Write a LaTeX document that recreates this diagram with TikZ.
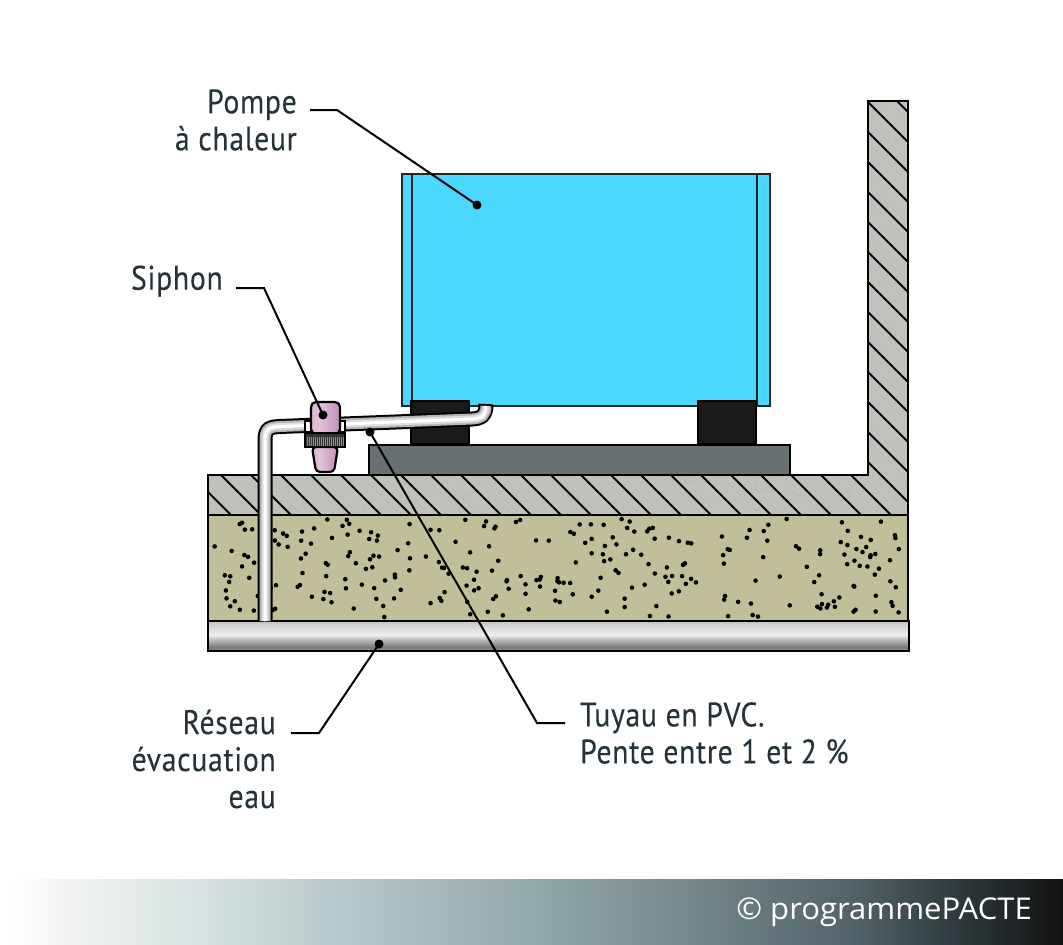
\documentclass[tikz,border=0pt]{standalone}
\usepackage{fontspec}
\setmainfont[FakeStretch=.875,LetterSpace=2,FakeBold=.15]{PT Sans}
\newfontfamily\pactefont[FakeStretch=1.035]{Open Sans}
\definecolor{beton}{HTML}{BFC1BC}
\definecolor{sable}{HTML}{C0BF99}
\definecolor{pac}{HTML}{4CD7FF}
\definecolor{plot}{HTML}{1A1A1A}
\definecolor{socle}{HTML}{687072}
\definecolor{encre}{HTML}{25323A}
% bandeau
\definecolor{banA}{HTML}{EEF1F0}
\definecolor{banB}{HTML}{D4DFDF}
\definecolor{banC}{HTML}{B0C3C6}
\definecolor{banD}{HTML}{94A9AC}
\definecolor{banE}{HTML}{74888C}
\definecolor{banF}{HTML}{52646A}
\definecolor{banG}{HTML}{2E3A3D}
\definecolor{banH}{HTML}{121212}
% reseau
\definecolor{drainA}{HTML}{C4C4C4}
\definecolor{drainB}{HTML}{F0F0F0}
\definecolor{drainC}{HTML}{B0B0B0}
\definecolor{drainD}{HTML}{777777}
\definecolor{drainE}{HTML}{999999}
% siphon
\definecolor{roseA}{HTML}{DDB4D2}
\definecolor{roseB}{HTML}{E3C2DA}
\definecolor{roseC}{HTML}{C08DB6}
% tuyau
\definecolor{pvcA}{HTML}{B5B5B5}
\definecolor{pvcB}{HTML}{DEDEDE}
% la zone utile d'un degrade va de 25bp a 75bp
\pgfdeclarehorizontalshading{bandeau}{100bp}{
  color(0bp)=(white); color(25.5bp)=(white); color(29bp)=(banA); color(35bp)=(banB); color(42.5bp)=(banC);
  color(50bp)=(banD); color(57.5bp)=(banE); color(65bp)=(banF); color(70bp)=(banG); color(75bp)=(banH); color(100bp)=(banH)}
\pgfdeclareverticalshading{drain}{100bp}{
  color(0bp)=(drainE); color(25bp)=(drainE); color(31bp)=(drainD); color(42bp)=(drainC); color(52bp)=(drainB);
  color(75bp)=(drainA); color(100bp)=(drainA)}
\pgfdeclarehorizontalshading{rose}{100bp}{
  color(0bp)=(roseA); color(25bp)=(roseA); color(40bp)=(roseB); color(75bp)=(roseC); color(100bp)=(roseC)}
\tikzset{
  trait/.style={draw=black,line width=2.6pt},
  hachure/.style={line width=1.8pt},
  lbl/.style={text=encre,font=\fontsize{34}{37}\selectfont,inner sep=0pt},
  repere/.style={circle,fill=black,inner sep=0pt,minimum size=9pt},
  leader/.style={line width=2pt},
}
\begin{document}
\begin{tikzpicture}[x=1pt,y=-1pt]
\useasboundingbox (0,0) rectangle (1063,945);
% dalle et mur
\fill[beton] (208,475)--(868,475)--(868,101)--(908,101)--(908,515)--(208,515)--cycle;
\begin{scope}
\clip (208,475)--(868,475)--(868,101)--(908,101)--(908,515)--(208,515)--cycle;
\pgfmathsetseed{77}
\foreach \i in {1,...,700}{
  \pgfmathsetmacro{\px}{208+rnd*700}
  \pgfmathsetmacro{\py}{476+rnd*39}
  \fill[black!35,opacity=.35] (\px,\py) circle (.8);
}
\foreach \i in {1,...,120}{
  \pgfmathsetmacro{\px}{868+rnd*40}
  \pgfmathsetmacro{\py}{101+rnd*375}
  \fill[black!35,opacity=.35] (\px,\py) circle (.8);
}
\foreach \k in {-18,...,20}
  \draw[hachure] ({226+30*\k+100},100)--({226+30*\k+520},520);
\end{scope}
\draw[trait] (208,475)--(868,475)--(868,101)--(908,101)--(908,515)--(208,515)--cycle;
% sable
\fill[sable] (208,515) rectangle (908,621);
\pgfmathsetseed{4127}
\foreach \i in {1,...,280}{
  \pgfmathsetmacro{\px}{212+rnd*692}
  \pgfmathsetmacro{\py}{519+rnd*98}
  \fill (\px,\py) circle (2.3);
}
\draw[trait] (208,515) rectangle (908,621);
% reseau
\shade[shading=drain] (208,621) rectangle (909,651);
\draw[trait] (208,621) rectangle (909,651);
% pompe
\draw[fill=pac,draw=black!85,line width=2pt] (402,174) rectangle (770,406);
\draw[draw=black!85,line width=2pt] (412,174)--(412,406) (757,174)--(757,406);
\draw[trait,fill=socle] (369,445) rectangle (790,475);
\draw[trait,fill=plot] (411,401) rectangle (469,444);
\draw[trait,fill=plot] (698,401) rectangle (756,444);
% tuyau
\foreach \w/\c/\e in {15/black/404,11/pvcA/406,7/pvcB/406,3/white/406}
  \draw[line width=\w pt,draw=\c] (265,621)--(265,440) .. controls (265,428) and (270,427) .. (280,426.5)
    --(472,419) .. controls (482,418.5) and (486,415) .. (486,\e);
% siphon
\draw[line width=2pt,fill=white] (305,421) rectangle (311,432);
\draw[line width=2pt,fill=white] (340,421) rectangle (345,432);
\draw[line width=2.2pt,rounded corners=4pt,shading=rose] (312,447)--(316,472)--(334,472)--(338,447)--cycle;
\draw[line width=2.2pt,rounded corners=5pt,shading=rose] (311,434)--(311,402)--(340,402)--(340,434)--cycle;
\draw[line width=2pt,fill=black!80] (305,433) rectangle (345,447);
\foreach \x in {307,309,...,343}
  \draw[black!45,line width=.7pt] (\x,437)--(\x,446);
% etiquettes
\node[lbl,anchor=east,align=right] (pompe) at (297,120) {Pompe\\à chaleur};
\node[lbl,anchor=east] (siphon) at (223,281) {Siphon};
\node[lbl,anchor=east,align=right] (reseau) at (276,759) {Réseau\\évacuation\\eau};
\node[lbl,anchor=west,align=left] (tuyau) at (580,733) {Tuyau en PVC.\\Pente entre 1 et 2 \%};
\node[repere] (dotpompe) at (477,205) {};
\node[repere] (dotsiphon) at (323,415) {};
\node[repere] (dottuyau) at (370,432) {};
\node[repere] (dotreseau) at (379,644) {};
\coordinate (startpompe) at (310,110);
\coordinate (kneepompe) at (337,110);
\coordinate (startsiphon) at (236,288);
\coordinate (kneesiphon) at (264,288);
\coordinate (starttuyau) at (565,723);
\coordinate (kneetuyau) at (537,723);
\coordinate (startreseau) at (291,733);
\coordinate (kneereseau) at (319,733);
\draw[leader] (startpompe)--(kneepompe)--(dotpompe.center);
\draw[leader] (startsiphon)--(kneesiphon)--(dotsiphon.center);
\draw[leader] (starttuyau)--(kneetuyau)--(dottuyau.center);
\draw[leader] (startreseau)--(kneereseau)--(dotreseau.center);
% bandeau
\shade[shading=bandeau] (0,879) rectangle (1063,945);
\node[text=white,anchor=east,inner sep=0pt,font=\pactefont\fontsize{30}{36}\selectfont] (copyright) at (1032,912) {© programmePACTE};
\end{tikzpicture}
\end{document}
